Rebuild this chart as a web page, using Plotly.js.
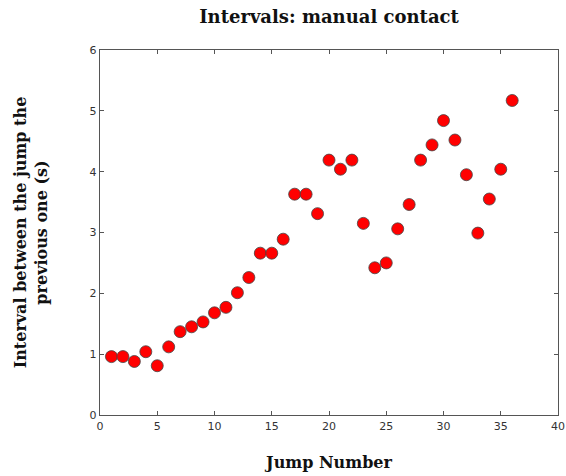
<!DOCTYPE html>
<html>
<head>
<meta charset="utf-8">
<script src="https://cdn.plot.ly/plotly-3.0.1.min.js"></script>
<style>html,body{margin:0;padding:0;background:#fff;}</style>
</head>
<body>
<div id="chart" style="width:566px;height:476px;"></div>
<script>
const jumpNumber = [1,2,3,4,5,6,7,8,9,10,11,12,13,14,15,16,17,18,19,20,21,22,23,24,25,26,27,28,29,30,31,32,33,34,35,36];
const intervalSec = [0.96,0.96,0.88,1.04,0.81,1.12,1.37,1.45,1.53,1.68,1.77,2.01,2.26,2.66,2.66,2.89,3.63,3.63,3.31,4.19,4.04,4.19,3.15,2.42,2.50,3.06,3.46,4.19,4.44,4.84,4.52,3.95,2.99,3.55,4.04,5.17];
const xTicks = [0,5,10,15,20,25,30,35,40];
const yTicks = [0,1,2,3,4,5,6];

const axisCommon = {
  showgrid: false, zeroline: false, showline: true, linecolor: '#555', linewidth: 1.3,
  mirror: 'ticks', ticks: 'inside', ticklen: 4, tickcolor: '#555', tickwidth: 1,
  ticklabeloverflow: 'allow',
  tickfont: {family: 'DejaVu Sans', size: 11, color: '#333'}
};

Plotly.newPlot('chart', [{
  x: jumpNumber, y: intervalSec, type: 'scatter', mode: 'markers',
  marker: {color: '#ff0000', size: 12, line: {color: '#444', width: 0.8}}
}], {
  width: 566, height: 476,
  margin: {l: 100, r: 8, t: 50, b: 61},
  paper_bgcolor: '#fff', plot_bgcolor: '#fff',
  showlegend: false,
  title: {text: '<b>Intervals: manual contact</b>', font: {family: 'DejaVu Serif', size: 18, color: '#111'},
          x: 0.5, xref: 'paper', xanchor: 'center', y: 0.964, yanchor: 'middle', yref: 'container'},
  xaxis: Object.assign({}, axisCommon, {range: [0, 40], tickvals: xTicks,
    title: {text: '<b>Jump Number</b>', font: {family: 'DejaVu Serif', size: 16, color: '#111'}, standoff: 25}}),
  yaxis: Object.assign({}, axisCommon, {range: [0, 6], tickvals: yTicks,
    title: {text: '<b>Interval between the jump the<br>previous one (s)</b>', font: {family: 'DejaVu Serif', size: 16, color: '#111'}, standoff: 38}})
}, {displayModeBar: false, staticPlot: true});
</script>
</body>
</html>
